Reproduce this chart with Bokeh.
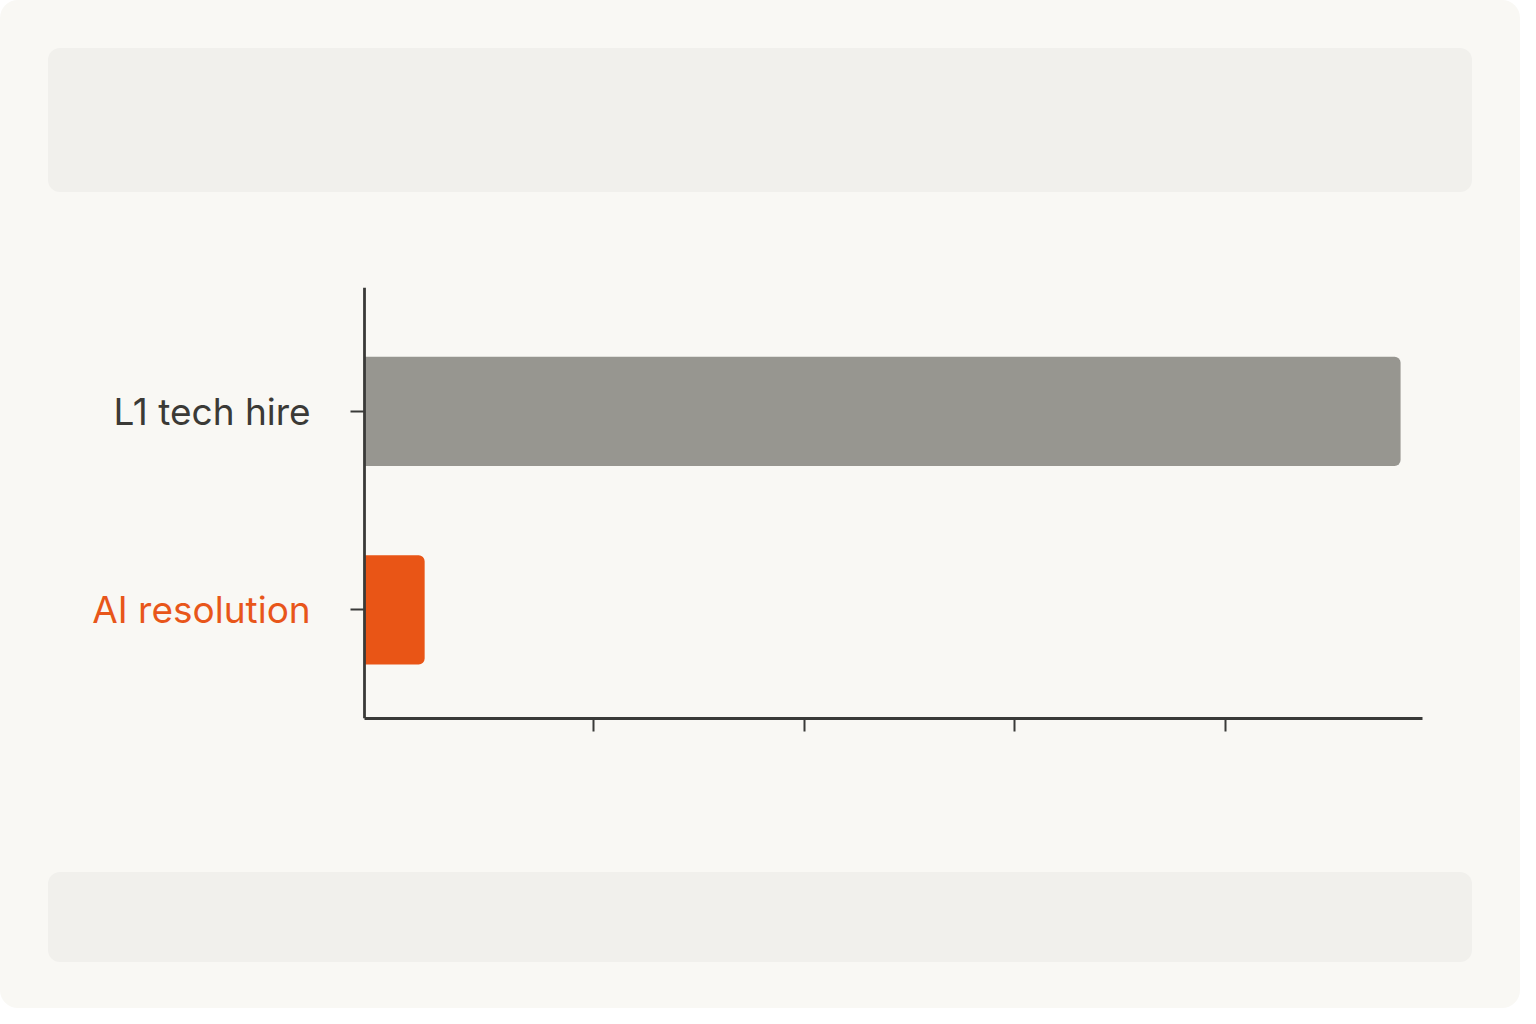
from bokeh.plotting import figure
from bokeh.models import Range1d, FixedTicker, LinearAxis, Div
from bokeh.layouts import column
from bokeh.embed import file_html
from bokeh.resources import INLINE

# ---- data ----
categories = ["L1 tech hire", "AI resolution"]
values = [48.3, 2.0]
cat_pos = [1, 0]
bar_colors = ["#979690", "#e95516"]
label_colors = ["#3b3a36", "#e8561a"]
x_ticks = [10, 20, 30, 40]

BG = "#f9f8f4"
PANEL = "#f1f0ec"
AXIS = "#3a3a38"

bar_start, x_end = -0.845, 49.34
x_view_start = -16.225   # extra room on the left for the category labels

p = figure(width=1520, height=680, output_backend="svg", toolbar_location=None,
           x_range=Range1d(x_view_start, x_end), y_range=Range1d(-0.548, 1.625),
           y_axis_location=None,
           min_border_top=95, min_border_bottom=154, min_border_left=40, min_border_right=98)
p.background_fill_color = BG
p.border_fill_color = BG
p.outline_line_color = None
p.grid.visible = False

for i in range(len(categories)):
    p.hbar(y=[cat_pos[i]], left=[bar_start], right=[values[i]], height=0.551,
           fill_color=bar_colors[i], line_color=None,
           border_radius=(0, 6, 6, 0))

# x axis, limited to the bar area
p.xaxis.ticker = FixedTicker(ticks=x_ticks)
p.xaxis.major_label_overrides = {t: "" for t in x_ticks}
p.xaxis.bounds = (bar_start, x_end)
p.xaxis.axis_line_color = AXIS
p.xaxis.axis_line_width = 2.8
p.xaxis.major_tick_line_color = AXIS
p.xaxis.major_tick_line_width = 2
p.xaxis.major_tick_in = 0
p.xaxis.major_tick_out = 13
p.xaxis.minor_tick_line_color = None

# one y axis per category so each label keeps its own colour
for i, c in enumerate(categories):
    ax = LinearAxis(ticker=FixedTicker(ticks=[cat_pos[i]]),
                    major_label_overrides={cat_pos[i]: c},
                    fixed_location=bar_start)
    ax.axis_line_color = AXIS if i == 0 else None
    ax.axis_line_width = 2.8
    ax.major_tick_line_color = AXIS
    ax.major_tick_line_width = 2
    ax.major_tick_in = 0
    ax.major_tick_out = 14
    ax.minor_tick_line_color = None
    ax.major_label_standoff = 40
    ax.major_label_text_font = "Inter"
    ax.major_label_text_font_size = "37px"
    ax.major_label_text_color = label_colors[i]
    p.add_layout(ax, "left")

top = Div(text="", width=1424, height=144, margin=(48, 0, 0, 48),
          styles={"background-color": PANEL, "border-radius": "12px"})
bottom = Div(text="", width=1424, height=90, margin=(0, 0, 46, 48),
             styles={"background-color": PANEL, "border-radius": "12px"})
layout = column(top, p, bottom, width=1520,
                styles={"background-color": BG, "border-radius": "18px"})

open("out.html", "w").write(file_html(layout, INLINE))
